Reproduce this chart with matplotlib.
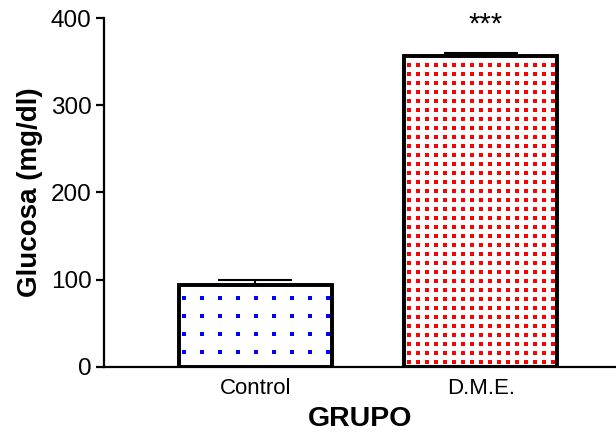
import numpy as np
import matplotlib.pyplot as plt

plt.rcParams['font.family'] = ['Liberation Sans', 'DejaVu Sans']

# Datos: glucosa media y error estándar por grupo
grupos = ['Control', 'D.M.E.']
glucosa = [94, 357]
error = [5.5, 2.5]
significancia = ['', '***']

# Estilo del punteado de cada barra (color, separación y margen inferior en píxeles)
colores_patron = ['#0000ff', '#ff0000']
paso_patron = [18, 9]
margen_inf = [15, 5]

fig = plt.figure(figsize=(6.16, 4.4), dpi=100)
ax = fig.add_axes([0.169, 0.166, 0.831, 0.793])

x = np.arange(len(grupos))
ancho = 0.68

ax.set_xlim(-0.67, 1.6)
ax.set_ylim(0, 400)

barras = ax.bar(x, glucosa, width=ancho, color='white', edgecolor='black',
                linewidth=2.6, zorder=3)

# Punteado en cuadrícula dentro de cada barra, recortado a su contorno
inv = ax.transData.inverted()
for i, rect in enumerate(barras):
    ext = rect.get_window_extent(fig.canvas.get_renderer())
    xs = np.arange(ext.x0 + 5, ext.x1, paso_patron[i])
    ys = np.arange(ext.y0 + margen_inf[i], ext.y1 - 2, paso_patron[i])
    gx, gy = np.meshgrid(xs, ys)
    pts = inv.transform(np.column_stack([gx.ravel(), gy.ravel()]))
    puntos = ax.scatter(pts[:, 0], pts[:, 1], marker='s', s=8, color=colores_patron[i],
                        linewidths=0, zorder=3.5)
    puntos.set_clip_path(rect)

# Contorno negro encima del punteado
ax.bar(x, glucosa, width=ancho, fill=False, edgecolor='black', linewidth=2.6, zorder=4)

# Barras de error (solo hacia arriba)
ax.errorbar(x, glucosa, yerr=[np.zeros(len(error)), error], fmt='none', ecolor='black',
            elinewidth=1.5, capsize=26.6, capthick=1.5, zorder=1)

for i in range(len(grupos)):
    if significancia[i]:
        ax.text(x[i] + 0.02, glucosa[i] + error[i] + 17, significancia[i], ha='center',
                va='bottom', fontsize=21)

ax.set_yticks([0, 100, 200, 300, 400])
ax.set_xticks(x)
ax.set_xticklabels(grupos)

ax.spines['top'].set_visible(False)
ax.spines['right'].set_visible(False)
ax.spines['left'].set_linewidth(1.6)
ax.spines['bottom'].set_linewidth(1.6)
ax.tick_params(axis='y', direction='out', length=6, width=1.6, labelsize=17.5, pad=3)
ax.tick_params(axis='x', length=0, labelsize=16, pad=8)

ax.set_ylabel('Glucosa (mg/dl)', fontsize=20, fontweight='bold', labelpad=6)
ax.set_xlabel('GRUPO', fontsize=20.5, fontweight='bold', labelpad=5)

fig.savefig('out.png', dpi=100)
